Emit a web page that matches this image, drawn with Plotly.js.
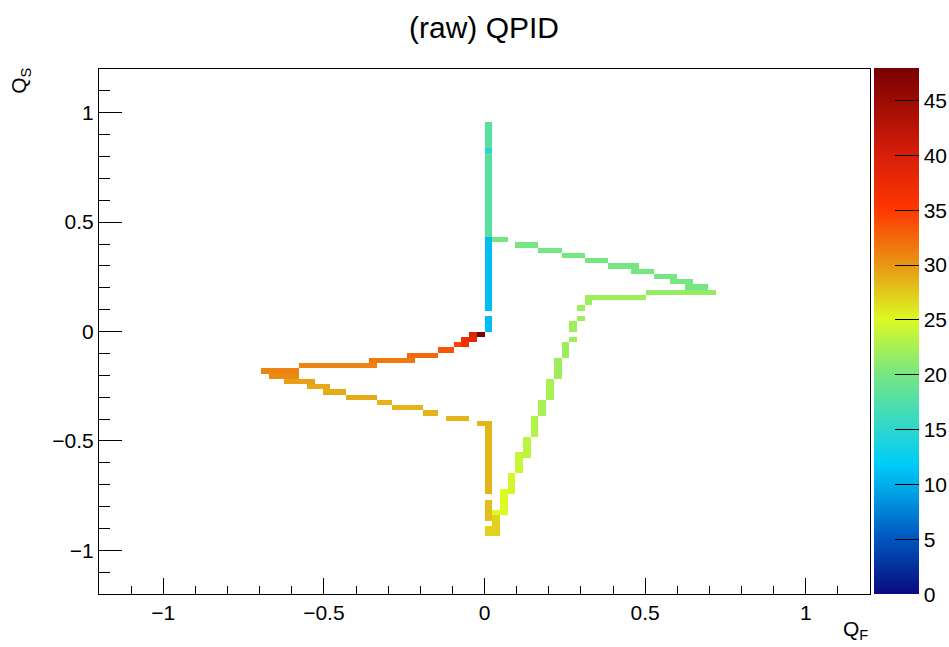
<!DOCTYPE html>
<html>
<head>
<meta charset="utf-8">
<script src="https://cdn.plot.ly/plotly-3.0.1.min.js"></script>
<style>
  html, body { margin: 0; padding: 0; background: #ffffff; }
  #chart { width: 949px; height: 647px; }
</style>
</head>
<body>
<div id="chart"></div>
<script>
// Histogram binning: 100 x 100 bins on [-1.2, 1.2] for Q_F and Q_S (bin width 0.024).
// Bin index k covers [0.024*k, 0.024*(k+1)].
const nBins = 100;
const axisMin = -1.2;
const axisMax = 1.2;

// Filled cells, given as rectangular runs of bins with a common content.
// Q_F bin range (inclusive)
const qfBinLo = [0, 0, 0, 0, 0, 0, 0, 0,
  1, 4, 7, 10, 13, 16, 19, 22, 24, 26, 21, 13,
  13, 12, 12, 11, 11, 10, 9, 8, 7, 6, 5, 4, 3, 2, 1, 1,
  -29, -28, -24, -15, -10, -6, -4, -3, -3, -2, -2, -1,
  -26, -23, -21, -18, -14, -12, -8, -5, -1];
const qfBinHi = [0, 0, 0, 0, 0, 0, 0, 0,
  2, 6, 9, 12, 15, 19, 21, 24, 26, 28, 29, 20,
  13, 12, 12, 11, 11, 10, 9, 8, 7, 6, 5, 4, 3, 2, 1, 1,
  -25, -25, -15, -10, -7, -5, -4, -3, -3, -2, -2, -1,
  -23, -21, -19, -15, -13, -9, -7, -3, -1];
// Q_S bin range (inclusive)
const qsBinLo = [35, 34, 18, 4, 0, -31, -36, -39,
  17, 16, 15, 14, 13, 12, 11, 10, 9, 8, 7, 6,
  5, 4, 2, 0, -2, -5, -9, -13, -16, -20, -24, -27, -31, -35, -35, -39,
  -8, -9, -7, -6, -5, -4, -3, -3, -2, -2, -1, -1,
  -10, -11, -12, -13, -14, -15, -16, -17, -18];
const qsBinHi = [39, 34, 33, 17, 2, -18, -33, -38,
  17, 16, 15, 14, 13, 12, 11, 10, 9, 8, 7, 6,
  5, 4, 2, 1, -2, -3, -6, -10, -14, -17, -21, -24, -28, -31, -35, -36,
  -8, -9, -7, -6, -5, -4, -3, -3, -2, -2, -1, -1,
  -10, -11, -12, -13, -14, -15, -16, -17, -18];
// bin content of each run
const counts = [18, 14.5, 18, 11, 11, 28.5, 28, 27,
  20, 20, 20, 20, 20, 20, 20, 20, 20, 20, 21.5, 22,
  22, 22, 22, 22, 22, 22, 22, 22.5, 22.5, 23, 23.5, 24, 24.5, 25, 25, 27,
  31, 30.5, 31, 31.5, 32.5, 33.5, 34.5, 36, 36.5, 38, 39, 47.9,
  29.5, 29, 29, 29, 28.5, 28.5, 28.5, 28.5, 28.5];

const zMin = 0;
const zMax = 47.9;

// Colour bar tick values
const zTicks = [0, 5, 10, 15, 20, 25, 30, 35, 40, 45];

// ---- build grid ----
const bw = (axisMax - axisMin) / nBins;
const centers = [];
for (let k = 0; k < nBins; k++) centers.push(+(axisMin + bw * (k + 0.5)).toFixed(4));
const offset = Math.round(-axisMin / bw); // index of bin starting at 0
const z = [];
for (let r = 0; r < nBins; r++) { const row = []; for (let c = 0; c < nBins; c++) row.push(null); z.push(row); }
for (let n = 0; n < counts.length; n++) {
  for (let j = qsBinLo[n]; j <= qsBinHi[n]; j++) {
    for (let i = qfBinLo[n]; i <= qfBinHi[n]; i++) {
      z[j + offset][i + offset] = counts[n];
    }
  }
}

const colorscale = [
  [0.000, 'rgb(10,10,125)'],
  [0.104, 'rgb(0,85,190)'],
  [0.209, 'rgb(0,175,235)'],
  [0.250, 'rgb(0,205,248)'],
  [0.313, 'rgb(45,215,205)'],
  [0.418, 'rgb(118,230,130)'],
  [0.522, 'rgb(220,250,35)'],
  [0.626, 'rgb(232,150,20)'],
  [0.731, 'rgb(255,55,0)'],
  [0.835, 'rgb(215,30,10)'],
  [1.000, 'rgb(120,0,0)']
];

const font = 'Liberation Sans, Arial, Helvetica, sans-serif';

const trace = {
  type: 'heatmap',
  x: centers,
  y: centers,
  z: z,
  zmin: zMin,
  zmax: zMax,
  colorscale: colorscale,
  hoverongaps: false,
  colorbar: {
    thickness: 45, thicknessmode: 'pixels',
    len: 1.002, lenmode: 'fraction',
    x: 1.0052, xanchor: 'left', xref: 'paper', xpad: 0,
    y: 0.5, yanchor: 'middle', yref: 'paper', ypad: 0,
    outlinewidth: 0,
    tickmode: 'array', tickvals: zTicks, ticktext: zTicks.map(String),
    ticks: 'inside', ticklen: 24, tickwidth: 1, tickcolor: '#000',
    tickfont: { family: font, size: 21, color: '#000' }
  }
};

const layout = {
  width: 949, height: 647,
  margin: { l: 99, r: 79, t: 69, b: 53, autoexpand: false },
  paper_bgcolor: '#fff', plot_bgcolor: '#fff',
  font: { family: font, color: '#000' },
  title: {
    text: '(raw) QPID', font: { family: font, size: 30, color: '#000' },
    x: 0.51, xref: 'container', xanchor: 'center',
    y: 0.958, yref: 'container', yanchor: 'middle'
  },
  xaxis: {
    range: [axisMin, axisMax], showgrid: false, zeroline: false,
    showline: true, mirror: true, linecolor: '#000', linewidth: 1,
    tick0: 0, dtick: 0.5, ticks: 'inside', ticklen: 16, tickwidth: 1, tickcolor: '#000',
    minor: { dtick: 0.1, tick0: 0, ticks: 'inside', ticklen: 8, tickwidth: 1, tickcolor: '#000', showgrid: false },
    tickfont: { family: font, size: 21, color: '#000' },
    fixedrange: true
  },
  yaxis: {
    range: [axisMin, axisMax], showgrid: false, zeroline: false,
    showline: true, mirror: true, linecolor: '#000', linewidth: 1,
    tick0: 0, dtick: 0.5, ticks: 'inside', ticklen: 23, tickwidth: 1, tickcolor: '#000',
    minor: { dtick: 0.1, tick0: 0, ticks: 'inside', ticklen: 11, tickwidth: 1, tickcolor: '#000', showgrid: false },
    tickfont: { family: font, size: 21, color: '#000' },
    fixedrange: true
  },
  annotations: [
    { text: 'Q<sub>F</sub>', xref: 'paper', yref: 'paper', x: 1, xanchor: 'right',
      y: -0.0686, yanchor: 'middle', showarrow: false, font: { family: font, size: 21, color: '#000' } },
    { text: 'Q<sub>S</sub>', xref: 'paper', yref: 'paper', x: -0.1025, xanchor: 'center',
      y: 1.006, yanchor: 'top', textangle: -90, showarrow: false, font: { family: font, size: 21, color: '#000' } }
  ]
};

Plotly.newPlot('chart', [trace], layout, { displayModeBar: false, staticPlot: true });
</script>
</body>
</html>
